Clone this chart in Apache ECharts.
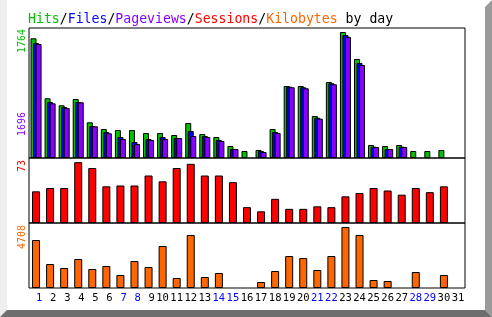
<!DOCTYPE html>
<html>
<head>
<meta charset="utf-8">
<script src="https://cdn.jsdelivr.net/npm/echarts@6/dist/echarts.min.js"></script>
<style>
html,body{margin:0;padding:0;background:#fff;}
#chart{width:492px;height:317px;}
</style>
</head>
<body>
<div id="chart"></div>
<script>
const days = ['1','2','3','4','5','6','7','8','9','10','11','12','13','14','15','16','17','18','19','20','21','22','23','24','25','26','27','28','29','30','31'];
const weekendDays = ['1','7','8','14','15','21','22','28','29'];
const hits      = [1676,836,738,826,500,406,392,392,350,350,322,490,336,294,168,98,112,406,1008,1008,588,1064,1764,1386,182,168,182,98,98,112,0];
const files     = [1610,784,714,784,448,364,294,224,266,294,280,378,308,252,126,0,98,364,998,990,564,1046,1722,1330,158,126,158,0,0,0,0];
const pageviews = [1596,766,700,780,444,346,266,196,252,266,280,308,294,238,126,0,84,350,990,976,550,1032,1696,1302,154,126,154,0,0,0,0];
const sessions  = [38,42,42,73,66,44,45,45,57,50,66,71,57,57,49,19,14,29,17,17,20,19,32,36,42,39,34,42,37,44,0];
const kilobytes = [3705,1852,1544,2238,1466,1698,1003,2084,1621,3242,772,4091,849,1158,0,0,463,1312,2470,2315,1389,2470,4708,4091,617,540,0,1235,0,1003,0];
const topLabels = {hits: '1764', pageviews: '1696', sessions: '73', kilobytes: '4708'};

const C = {hits:'#00c000', files:'#0000ff', pageviews:'#8800ff', sessions:'#ff0000', kilobytes:'#ff6600'};
const MONO = '"DejaVu Sans Mono", "Liberation Mono", monospace';
const nz = a => a.map(v => v === 0 ? null : v);

const chart = echarts.init(document.getElementById('chart'), null, {renderer:'canvas'});

const gridBase = {left:29, width:436, show:true, borderColor:'#000', borderWidth:1, backgroundColor:'transparent', containLabel:false};
const xBase = {type:'category', data:days, axisLine:{show:false}, axisTick:{show:false}, axisLabel:{show:false}, splitLine:{show:false}};
const yBase = {type:'value', min:0, axisLine:{show:false}, axisTick:{show:false}, axisLabel:{show:false}, splitLine:{show:false}};
const bstyle = c => ({color:c, borderColor:'#000', borderWidth:1});
const FS = 13.2;

const option = {
  animation:false,
  backgroundColor:'#fff',
  title:{
    left:28, top:13, padding:0,
    text:'{h|Hits}{k|/}{f|Files}{k|/}{p|Pageviews}{k|/}{s|Sessions}{k|/}{b|Kilobytes}{k| by day}',
    textStyle:{
      fontFamily:MONO, fontSize:FS, fontWeight:'normal',
      rich:{
        h:{color:C.hits, fontFamily:MONO, fontSize:FS},
        f:{color:C.files, fontFamily:MONO, fontSize:FS},
        p:{color:C.pageviews, fontFamily:MONO, fontSize:FS},
        s:{color:C.sessions, fontFamily:MONO, fontSize:FS},
        b:{color:C.kilobytes, fontFamily:MONO, fontSize:FS},
        k:{color:'#000', fontFamily:MONO, fontSize:FS}
      }
    }
  },
  grid:[
    Object.assign({top:28, height:130}, gridBase),
    Object.assign({top:158, height:65}, gridBase),
    Object.assign({top:223, height:65}, gridBase)
  ],
  xAxis:[
    Object.assign({gridIndex:0}, xBase),
    Object.assign({gridIndex:1}, xBase),
    Object.assign({}, xBase, {gridIndex:2, axisLabel:{
      show:true, interval:0, margin:5, fontFamily:MONO, fontSize:10.5,
      formatter: v => v.length < 2 ? '\u00a0' + v : v,
      color: v => weekendDays.indexOf(String(v).trim()) >= 0 ? '#0000ff' : '#000'
    }})
  ],
  yAxis:[
    Object.assign({gridIndex:0, max:1820}, yBase),
    Object.assign({gridIndex:1, max:78}, yBase),
    Object.assign({gridIndex:2, max:5020}, yBase)
  ],
  series:[
    {name:'Hits', type:'bar', xAxisIndex:0, yAxisIndex:0, data:nz(hits), barWidth:6, barGap:'-58%', itemStyle:bstyle(C.hits)},
    {name:'Files', type:'bar', xAxisIndex:0, yAxisIndex:0, data:nz(files), barWidth:6, barGap:'-58%', itemStyle:bstyle(C.files)},
    {name:'Pageviews', type:'bar', xAxisIndex:0, yAxisIndex:0, data:nz(pageviews), barWidth:6, barGap:'-58%', itemStyle:bstyle(C.pageviews)},
    {name:'Sessions', type:'bar', xAxisIndex:1, yAxisIndex:1, data:nz(sessions), barWidth:8, itemStyle:bstyle(C.sessions)},
    {name:'Kilobytes', type:'bar', xAxisIndex:2, yAxisIndex:2, data:nz(kilobytes), barWidth:8, itemStyle:bstyle(C.kilobytes)}
  ],
  graphic:[
    {type:'rect', shape:{x:0, y:0, width:7, height:317}, style:{fill:'#eeeeee'}, z:-10},
    {type:'polygon', shape:{points:[[485,7],[492,0],[492,317],[485,310]]}, style:{fill:'#9a9a9a'}, z:-10},
    {type:'polygon', shape:{points:[[7,310],[485,310],[492,317],[0,317]]}, style:{fill:'#6e6e6e'}, z:-9},
    {type:'text', x:22, y:41, rotation:Math.PI/2, style:{text:topLabels.hits, fill:C.hits, font:'10px ' + MONO, align:'center', verticalAlign:'middle'}},
    {type:'text', x:22, y:124, rotation:Math.PI/2, style:{text:topLabels.pageviews, fill:C.pageviews, font:'10px ' + MONO, align:'center', verticalAlign:'middle'}},
    {type:'text', x:22, y:166, rotation:Math.PI/2, style:{text:topLabels.sessions, fill:C.sessions, font:'10px ' + MONO, align:'center', verticalAlign:'middle'}},
    {type:'text', x:22, y:237, rotation:Math.PI/2, style:{text:topLabels.kilobytes, fill:C.kilobytes, font:'10px ' + MONO, align:'center', verticalAlign:'middle'}}
  ]
};
chart.setOption(option);
</script>
</body>
</html>
